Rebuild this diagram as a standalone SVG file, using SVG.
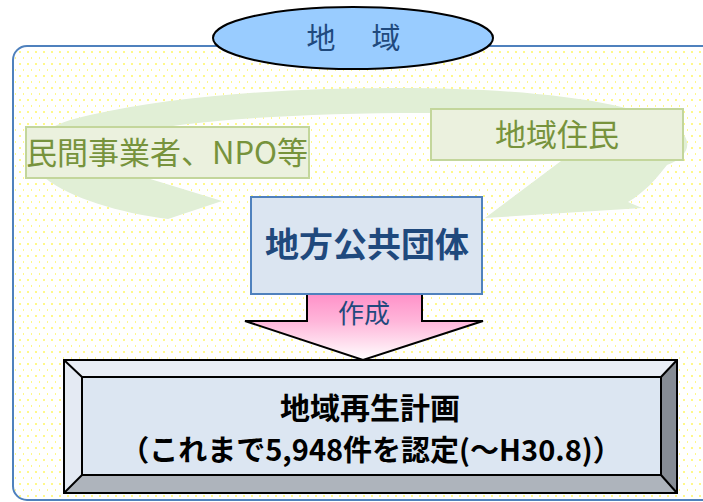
<svg xmlns="http://www.w3.org/2000/svg" width="703" height="502" viewBox="0 0 703 502">
  <defs>
    <pattern id="dots" width="8" height="12" patternUnits="userSpaceOnUse">
      <rect width="8" height="12" fill="#ffffff"/>
      <rect x="3" y="3" width="2" height="2" fill="#fff88a"/>
      <rect x="7" y="9" width="2" height="2" fill="#fff88a"/>
    </pattern>
    <linearGradient id="pink" x1="0" y1="0" x2="0" y2="1">
      <stop offset="0" stop-color="#ff8cc6"/>
      <stop offset="0.45" stop-color="#ffb6da"/>
      <stop offset="1" stop-color="#ffffff"/>
    </linearGradient>
    <style>
      .jp { font-family: "Noto Sans CJK JP", "Noto Sans", sans-serif; }
      .green { fill: #77933c; font-size: 31px; }
      .gbox { fill: #ebf1de; stroke: #c3d69b; stroke-width: 2; }
      .navy { fill: #1f497d; }
      .edge { stroke: #000; stroke-width: 2; stroke-linejoin: miter; }
    </style>
  </defs>

  <!-- region frame -->
  <g id="region-frame">
    <rect x="13" y="46" width="705" height="454" rx="14" ry="14" fill="url(#dots)" stroke="#4f81bd" stroke-width="2"/>
  </g>

  <!-- circular green arrow (background) -->
  <g id="cycle-arrow">
    <path d="M 222 201 L 168 219 C 120 213 70 198 45 178 C 15 152 30 128 90 115 C 180 95 290 88 400 88 C 520 88 640 100 680 130 C 695 145 685 158 667 165 C 655 180 645 192 628 202 L 642 208 L 485 218 L 565 158 L 580 155 C 610 130 560 114 450 113 C 330 112 220 118 160 128 C 100 140 85 165 147 178 Z" fill="#e1efd6"/>
  </g>

  <!-- region label ellipse -->
  <g id="node-region">
    <ellipse cx="353" cy="38" rx="140" ry="31" fill="#99ccff" stroke="#000" stroke-width="2"/>
    <text class="jp navy" x="321" y="49" font-size="29" text-anchor="middle">地</text>
    <text class="jp navy" x="386" y="49" font-size="29" text-anchor="middle">域</text>
  </g>

  <!-- private sector / NPO -->
  <g id="node-private">
    <rect class="gbox" x="26" y="127" width="283" height="51"/>
    <text class="jp green" x="167" y="164" text-anchor="middle">民間事業者、NPO等</text>
  </g>

  <!-- residents -->
  <g id="node-residents">
    <rect class="gbox" x="431" y="109" width="252" height="51"/>
    <text class="jp green" x="557" y="146" text-anchor="middle">地域住民</text>
  </g>

  <!-- connectors -->
  <g id="connectors">
    <path d="M 307 290 L 307 321 L 245 321 L 363 360 L 483 321 L 422 321 L 422 290" fill="url(#pink)" stroke="#000" stroke-width="2" stroke-linejoin="miter"/>
    <text class="jp navy" x="364" y="323" font-size="26" text-anchor="middle">作成</text>
  </g>

  <!-- local government -->
  <g id="node-localgov">
    <rect x="251" y="197" width="231" height="97" fill="#dbe5f1" stroke="#4f81bd" stroke-width="2"/>
    <text class="jp navy" x="367" y="257" font-size="34" font-weight="bold" text-anchor="middle">地方公共団体</text>
  </g>

  <!-- regional revitalization plan (bevel box) -->
  <g id="node-plan">
    <polygon points="64,360 677,360 661,377 82,377" fill="#e9eef6"/>
    <polygon points="64,360 82,377 82,475 64,493" fill="#e4eaf3"/>
    <polygon points="64,493 82,475 661,475 677,493" fill="#aeb4bc"/>
    <polygon points="677,360 677,493 661,475 661,377" fill="#868c94"/>
    <rect x="82" y="377" width="579" height="98" fill="#dce6f2"/>
    <g fill="none" class="edge">
      <rect x="64" y="360" width="613" height="133"/>
      <rect x="82" y="377" width="579" height="98"/>
      <line x1="64" y1="360" x2="82" y2="377"/>
      <line x1="677" y1="360" x2="661" y2="377"/>
      <line x1="64" y1="493" x2="82" y2="475"/>
      <line x1="677" y1="493" x2="661" y2="475"/>
    </g>
    <text class="jp" x="370" y="419" font-size="30" font-weight="bold" text-anchor="middle" fill="#000">地域再生計画</text>
    <text class="jp" x="371" y="461" font-size="29" font-weight="bold" text-anchor="middle" fill="#000">（これまで5,948件を認定(～H30.8)）</text>
  </g>
</svg>
